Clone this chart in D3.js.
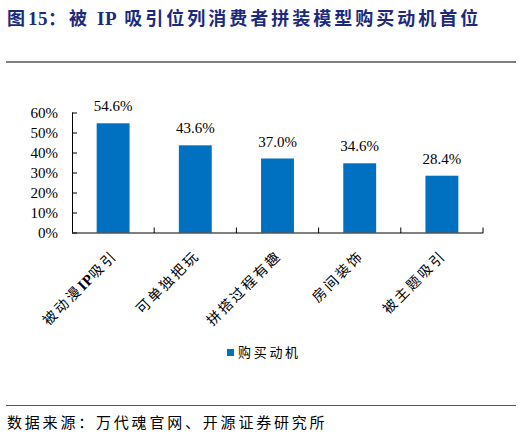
<!DOCTYPE html>
<html>
<head>
<meta charset="utf-8">
<script src="https://cdn.jsdelivr.net/npm/d3@7"></script>
<style>
  body { margin: 0; background: #fff; }
  svg { display: block; }
</style>
</head>
<body>
<svg class="chart" width="522" height="436"></svg>
<script>
// Chart data
var categories = ["被动漫IP吸引", "可单独把玩", "拼搭过程有趣", "房间装饰", "被主题吸引"];
var values = [54.6, 43.6, 37.0, 34.6, 28.4];
var yTicks = [0, 10, 20, 30, 40, 50, 60];
var seriesName = "购买动机";
var titleText = "图15：被 IP 吸引位列消费者拼装模型购买动机首位";
var sourceText = "数据来源：万代魂官网、开源证券研究所";

var svg = d3.select(".chart");
var cjk = "'Noto Sans CJK SC', sans-serif";
var serif = "'Liberation Serif', 'Times New Roman', serif";
var barColor = "#0070c0";

// Plot area
var margin = {top: 112.5, left: 72, right: 39, bottom: 204};
var width = 522 - margin.left - margin.right;
var height = 232.5 - margin.top;

// Split text into CJK and Latin runs, Latin in serif without extra spacing
function mixedText(sel, str, latinSize, latinBold) {
    var parts = str.split(/([A-Za-z0-9]+)/).filter(function(s) { return s.length; });
    parts.forEach(function(p) {
        var span = sel.append("tspan").text(p);
        if (/[A-Za-z0-9]/.test(p)) {
            span.attr("font-family", serif)
                .attr("font-size", latinSize)
                .attr("letter-spacing", "0.5px");
            if (latinBold) span.attr("font-weight", "bold");
        }
    });
}

// Title
var title = svg.append("text")
    .attr("x", 7)
    .attr("y", 25)
    .attr("fill", "#1b2a7c")
    .attr("font-weight", "bold")
    .attr("font-size", "18px")
    .attr("letter-spacing", "3px")
    .attr("font-family", cjk);
mixedText(title, titleText, "19px", true);

// Top rule and bottom rule
svg.append("line")
    .attr("x1", 6).attr("x2", 516)
    .attr("y1", 62).attr("y2", 62)
    .attr("stroke", "#000").attr("stroke-width", 1);
svg.append("line")
    .attr("x1", 6).attr("x2", 516)
    .attr("y1", 405.5).attr("y2", 405.5)
    .attr("stroke", "#555").attr("stroke-width", 1);

// Source note
svg.append("text")
    .attr("x", 7)
    .attr("y", 428)
    .attr("font-size", "15px")
    .attr("letter-spacing", "2.8px")
    .attr("font-family", cjk)
    .attr("fill", "#000")
    .text(sourceText);

// Scales
var x = d3.scaleBand().domain(categories).range([0, width]).paddingInner(0).paddingOuter(0);
var y = d3.scaleLinear().domain([0, 60]).range([height, 0]);

var chart = svg.append("g")
    .attr("transform", "translate(" + margin.left + "," + margin.top + ")");

// Bars
var barW = x.bandwidth() * 0.4;
chart.selectAll(".bar")
    .data(values)
    .enter()
        .append("rect")
        .attr("class", "bar")
        .attr("x", function(d, i) { return x(categories[i]) + (x.bandwidth() - barW) / 2; })
        .attr("width", barW)
        .attr("y", function(d) { return y(d); })
        .attr("height", function(d) { return height - y(d); })
        .attr("fill", barColor);

// Value labels
chart.selectAll(".val")
    .data(values)
    .enter()
        .append("text")
        .attr("class", "val")
        .attr("x", function(d, i) { return x(categories[i]) + x.bandwidth() / 2; })
        .attr("y", function(d) { return y(d) - 12; })
        .attr("text-anchor", "middle")
        .attr("font-size", "15px")
        .attr("font-family", serif)
        .text(function(d) { return d.toFixed(1) + "%"; });

// Y axis (ticks pointing inward)
var yAxis = chart.append("g")
    .call(d3.axisRight(y).tickValues(yTicks).tickSize(5).tickFormat(function(d) { return d + "%"; }));
yAxis.select(".domain").attr("d", "M0.5," + height + "V0").attr("stroke", "#000");
yAxis.selectAll(".tick line").attr("stroke", "#000");
yAxis.selectAll(".tick text")
    .attr("x", -14)
    .attr("text-anchor", "end")
    .attr("font-size", "15px")
    .attr("font-family", serif)
    .attr("fill", "#000");

// X axis: band boundary ticks pointing up
var xAxis = chart.append("g")
    .attr("transform", "translate(0," + height + ")");
xAxis.append("line")
    .attr("x1", 0).attr("x2", width)
    .attr("y1", 0.5).attr("y2", 0.5)
    .attr("stroke", "#000");
xAxis.selectAll(".bt")
    .data(categories)
    .enter()
        .append("line")
        .attr("class", "bt")
        .attr("x1", function(d) { return x(d) + x.bandwidth(); })
        .attr("x2", function(d) { return x(d) + x.bandwidth(); })
        .attr("y1", 0.5).attr("y2", -5)
        .attr("stroke", "#000");

// Rotated category labels
xAxis.selectAll(".cat")
    .data(categories)
    .enter()
        .append("text")
        .attr("class", "cat")
        .attr("transform", function(d) {
            return "translate(" + (x(d) + x.bandwidth() / 2 + 5) + ",24) rotate(-45)";
        })
        .attr("text-anchor", "end")
        .attr("font-size", "14px")
        .attr("letter-spacing", "2.5px")
        .attr("font-family", cjk)
        .each(function(d) { mixedText(d3.select(this), d, "15px", true); });

// Legend
var legend = svg.append("g").attr("transform", "translate(227,349)");
legend.append("rect")
    .attr("width", 7).attr("height", 7)
    .attr("fill", barColor);
legend.append("text")
    .attr("x", 11)
    .attr("y", 8)
    .attr("font-size", "13px")
    .attr("letter-spacing", "2.7px")
    .attr("font-family", cjk)
    .text(seriesName);
</script>
</body>
</html>
